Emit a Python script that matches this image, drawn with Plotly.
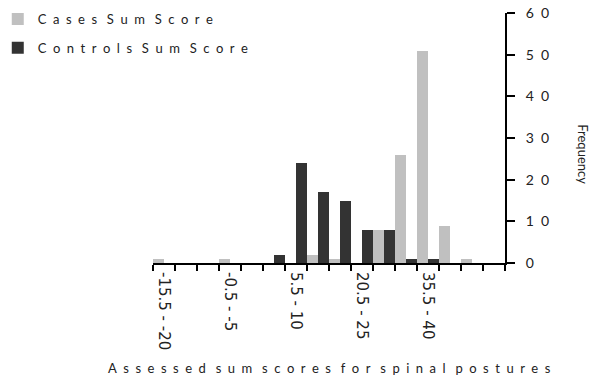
import plotly.graph_objects as go

categories = ["-15.5 - -20", "-10.5 - -15", "-5.5 - -10", "-0.5 - -5", "0",
              "0.5 - 5", "5.5 - 10", "10.5 - 15", "15.5 - 20", "20.5 - 25",
              "25.5 - 30", "30.5 - 35", "35.5 - 40", "40.5 - 45", "45.5 - 50",
              "50.5 - 55"]
cases = [1, 0, 0, 1, 0, 0, 0, 2, 1, 0, 8, 26, 51, 9, 1, 0]
controls = [0, 0, 0, 0, 0, 2, 24, 17, 15, 8, 8, 1, 1, 0, 0, 0]
shown_labels = ["-15.5 - -20", "-0.5 - -5", "5.5 - 10", "20.5 - 25", "35.5 - 40"]
y_ticks = [0, 10, 20, 30, 40, 50, 60]

FONT = "Lato"
TXT = "#222222"


def spaced(s, gap="\u2002"):
    words = [gap.join(list(w)) for w in s.split(" ")]
    return (gap + " ").join(words)


xpos = list(range(len(categories)))
fig = go.Figure()
fig.add_trace(go.Bar(x=xpos, y=cases, name=spaced("Cases Sum Score"),
                     marker=dict(color="#c0c0c0", line=dict(width=0)),
                     legendgroup="a"))
fig.add_trace(go.Bar(x=xpos, y=controls, name=spaced("Controls Sum Score"),
                     marker=dict(color="#333333", line=dict(width=0)),
                     legendgroup="b"))

fig.update_layout(
    template="none",
    width=589, height=372,
    margin=dict(l=145.3, r=91.5, t=5, b=117.3, autoexpand=False),
    paper_bgcolor="white", plot_bgcolor="white",
    barmode="group", bargap=0, bargroupgap=0,
    font=dict(family=FONT, color=TXT),
    showlegend=True,
    legend=dict(xref="paper", yref="paper", x=-0.441, y=1.036,
                xanchor="left", yanchor="top", traceorder="grouped",
                tracegroupgap=9, font=dict(size=13, family=FONT, color=TXT),
                bgcolor="rgba(0,0,0,0)"),
    xaxis=dict(range=[-0.5, len(categories) - 0.5], showgrid=False, zeroline=False,
               showline=True, linecolor="black", linewidth=2,
               tickmode="array",
               tickvals=[categories.index(c) for c in shown_labels],
               ticktext=shown_labels, ticks="", tickangle=90,
               ticklabelstandoff=4,
               tickfont=dict(size=15, family="DejaVu Sans", color=TXT),
               minor=dict(tick0=-0.5, dtick=1, ticks="outside", ticklen=6,
                          tickwidth=2, tickcolor="black", showgrid=False)),
    yaxis=dict(range=[0, 60], side="right", showgrid=False, zeroline=False,
               showline=True, linecolor="black", linewidth=2,
               tickmode="array", tickvals=y_ticks,
               ticktext=[spaced(str(v)) for v in y_ticks],
               ticks="outside", ticklen=8, tickwidth=2, tickcolor="black",
               ticklabelstandoff=8, ticklabeloverflow="allow",
               tickfont=dict(size=14, family=FONT, color=TXT)),
)

fig.add_annotation(text="Frequency", xref="paper", yref="paper",
                   x=1.2216, y=0.435, xanchor="center", yanchor="middle",
                   textangle=90, showarrow=False,
                   font=dict(size=13, family=FONT, color=TXT))
fig.add_annotation(text=spaced("Assessed sum scores for spinal postures"),
                   xref="paper", yref="paper", x=0.5, y=-0.4217,
                   xanchor="center", yanchor="middle",
                   showarrow=False, font=dict(size=13, family=FONT, color=TXT))

fig.write_html("out.html")
